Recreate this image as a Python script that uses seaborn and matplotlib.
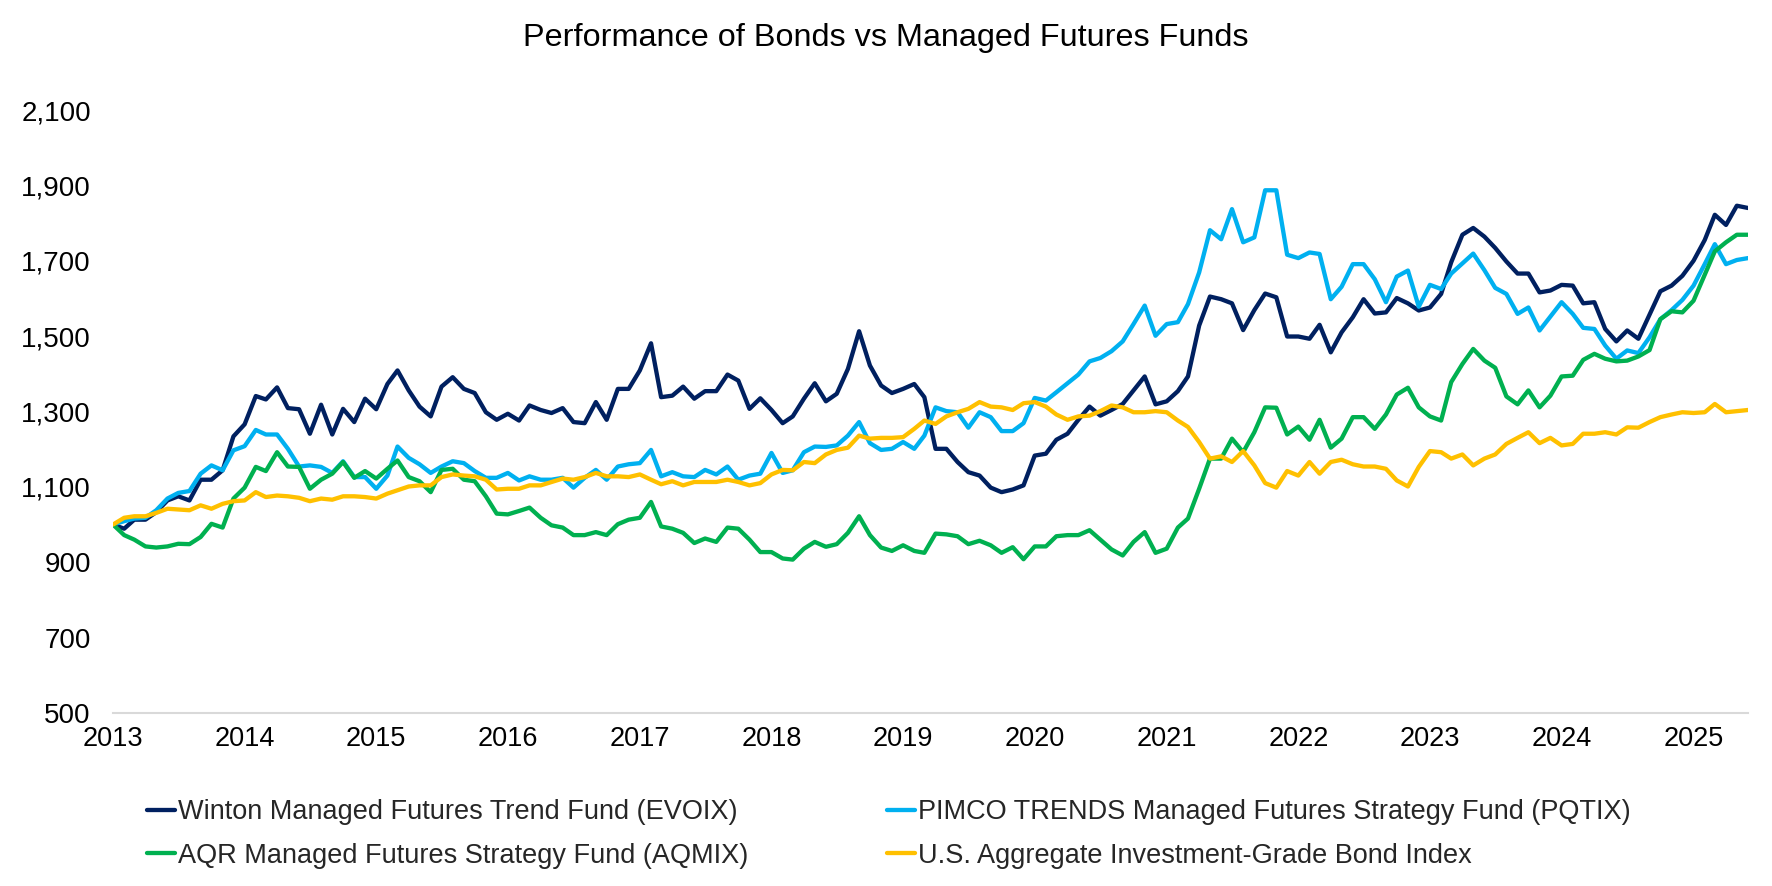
import numpy as np
import pandas as pd
import matplotlib
matplotlib.use("Agg")
import matplotlib.pyplot as plt
import matplotlib.dates as mdates
from matplotlib.ticker import FuncFormatter, FixedLocator
import seaborn as sns

# ---------------- data (monthly, growth of 1,000) ----------------
start_month = "2013-01-01"

winton = [1000, 989, 1013, 1013, 1033, 1064, 1075, 1064, 1119, 1119,
          1144, 1234, 1266, 1341, 1332, 1364, 1309, 1306, 1241, 1318,
          1239, 1307, 1272, 1334, 1306, 1373, 1409, 1356, 1313, 1287,
          1366, 1391, 1360, 1349, 1298, 1278, 1294, 1276, 1316, 1304,
          1296, 1309, 1272, 1269, 1325, 1278, 1360, 1360, 1409, 1481,
          1338, 1342, 1366, 1334, 1354, 1354, 1398, 1382, 1307, 1335,
          1304, 1269, 1287, 1334, 1375, 1327, 1347, 1413, 1513, 1422,
          1369, 1349, 1360, 1373, 1338, 1201, 1201, 1166, 1139, 1130,
          1098, 1086, 1093, 1104, 1183, 1188, 1225, 1241, 1278, 1313,
          1289, 1304, 1320, 1356, 1393, 1319, 1327, 1354, 1393, 1528,
          1605, 1598, 1587, 1516, 1569, 1613, 1603, 1499, 1499, 1493,
          1530, 1457, 1510, 1550, 1598, 1560, 1563, 1601, 1587, 1568,
          1576, 1612, 1696, 1769, 1787, 1764, 1734, 1698, 1666, 1666,
          1616, 1621, 1636, 1634, 1587, 1590, 1519, 1486, 1515, 1493,
          1557, 1619, 1634, 1660, 1700, 1755, 1822, 1795, 1846, 1840]

pimco = [1000, 1009, 1016, 1018, 1038, 1069, 1084, 1089, 1135, 1157,
         1144, 1197, 1208, 1251, 1239, 1239, 1201, 1154, 1157, 1153,
         1137, 1168, 1126, 1126, 1095, 1130, 1207, 1177, 1160, 1137,
         1154, 1168, 1163, 1142, 1124, 1124, 1137, 1117, 1128, 1119,
         1119, 1124, 1098, 1124, 1145, 1119, 1154, 1160, 1163, 1198,
         1128, 1139, 1128, 1126, 1145, 1133, 1154, 1119, 1130, 1135,
         1190, 1137, 1144, 1192, 1207, 1206, 1210, 1236, 1272, 1216,
         1198, 1201, 1219, 1201, 1236, 1311, 1301, 1298, 1257, 1298,
         1285, 1248, 1248, 1269, 1336, 1329, 1351, 1375, 1398, 1433,
         1442, 1460, 1486, 1532, 1581, 1501, 1532, 1537, 1585, 1669,
         1781, 1757, 1837, 1749, 1762, 1887, 1887, 1716, 1707, 1722,
         1718, 1598, 1631, 1691, 1691, 1651, 1590, 1658, 1674, 1578,
         1636, 1625, 1666, 1693, 1719, 1675, 1628, 1612, 1559, 1576,
         1515, 1552, 1590, 1559, 1522, 1519, 1475, 1440, 1462, 1455,
         1497, 1545, 1569, 1596, 1634, 1691, 1744, 1691, 1702, 1707]

aqr = [1000, 972, 960, 942, 939, 942, 949, 948, 967, 1002,
       992, 1069, 1098, 1153, 1142, 1192, 1154, 1153, 1095, 1119,
       1135, 1166, 1124, 1142, 1122, 1148, 1170, 1126, 1115, 1086,
       1145, 1148, 1119, 1115, 1075, 1029, 1027, 1036, 1045, 1018,
       998, 992, 972, 972, 980, 972, 1001, 1013, 1018, 1060,
       995, 989, 978, 951, 963, 954, 992, 989, 960, 927,
       927, 910, 907, 936, 954, 941, 948, 978, 1022, 972,
       939, 930, 945, 930, 925, 976, 974, 969, 948, 957,
       945, 925, 940, 908, 942, 942, 969, 972, 972, 985,
       960, 934, 918, 954, 980, 925, 936, 992, 1016, 1095,
       1175, 1175, 1228, 1192, 1245, 1311, 1310, 1239, 1260, 1225,
       1278, 1204, 1228, 1285, 1285, 1254, 1292, 1345, 1363, 1311,
       1287, 1276, 1378, 1426, 1466, 1435, 1416, 1340, 1319, 1356,
       1311, 1342, 1393, 1395, 1437, 1453, 1440, 1433, 1435, 1446,
       1463, 1545, 1566, 1563, 1594, 1663, 1725, 1749, 1769, 1769]

bond = [1000, 1018, 1022, 1022, 1031, 1042, 1040, 1038, 1051, 1042,
        1055, 1062, 1064, 1086, 1073, 1077, 1075, 1071, 1062, 1069,
        1066, 1075, 1075, 1073, 1069, 1082, 1091, 1101, 1104, 1104,
        1126, 1133, 1130, 1128, 1119, 1093, 1095, 1095, 1104, 1104,
        1113, 1122, 1119, 1126, 1137, 1128, 1128, 1126, 1133, 1119,
        1107, 1115, 1104, 1113, 1113, 1113, 1119, 1113, 1104, 1110,
        1133, 1145, 1144, 1166, 1163, 1186, 1198, 1204, 1236, 1228,
        1230, 1230, 1232, 1254, 1276, 1267, 1287, 1298, 1307, 1325,
        1313, 1311, 1304, 1322, 1325, 1313, 1292, 1278, 1287, 1289,
        1301, 1316, 1311, 1298, 1298, 1301, 1298, 1276, 1259, 1219,
        1175, 1181, 1166, 1195, 1157, 1110, 1098, 1142, 1130, 1166,
        1135, 1166, 1172, 1160, 1154, 1154, 1148, 1117, 1101, 1153,
        1195, 1192, 1175, 1186, 1157, 1175, 1186, 1214, 1230, 1245,
        1216, 1230, 1210, 1214, 1241, 1241, 1245, 1239, 1258, 1257,
        1272, 1285, 1292, 1298, 1296, 1298, 1320, 1298, 1301, 1304]

series_names = ["Winton Managed Futures Trend Fund (EVOIX)",
                "PIMCO TRENDS Managed Futures Strategy Fund (PQTIX)",
                "AQR Managed Futures Strategy Fund (AQMIX)",
                "U.S. Aggregate Investment-Grade Bond Index"]
colors = ["#002060", "#00B0F0", "#00B050", "#FFC000"]
y_ticks = [500, 700, 900, 1100, 1300, 1500, 1700, 1900, 2100]
x_tick_years = list(range(2013, 2026))
title = "Performance of Bonds vs Managed Futures Funds"

# ---------------- build table ----------------
dates = pd.date_range(start_month, periods=len(winton), freq="MS")
values = [winton, pimco, aqr, bond]
df = pd.DataFrame({
    "Date": np.concatenate([dates] * len(values)),
    "Value": np.concatenate([np.asarray(v, dtype=float) for v in values]),
    "Series": np.repeat(series_names, len(dates)),
})

# ---------------- plot ----------------
sns.set_theme(style="white")
plt.rcParams["font.family"] = ["Liberation Sans", "DejaVu Sans"]

W, H = 1772, 886
fig = plt.figure(figsize=(W / 100, H / 100), dpi=100)
ax = fig.add_axes([113 / W, 1 - 713 / H, (1748 - 113) / W, (713 - 110) / H])

sns.lineplot(data=df, x="Date", y="Value", hue="Series", hue_order=series_names,
             palette=colors, linewidth=3.1, estimator=None, ax=ax)

ax.set_ylim(500, 2100)
ax.set_xlim(dates[0], dates[-1])
ax.yaxis.set_major_locator(FixedLocator(y_ticks))
ax.yaxis.set_major_formatter(FuncFormatter(lambda v, p: f"{v:,.0f}"))
ax.xaxis.set_major_locator(FixedLocator([mdates.date2num(pd.Timestamp(f"{y}-01-01")) for y in x_tick_years]))
ax.xaxis.set_major_formatter(mdates.DateFormatter("%Y"))
ax.set_xlabel("")
ax.set_ylabel("")

for s in ["left", "top", "right"]:
    ax.spines[s].set_visible(False)
ax.spines["bottom"].set_color("#D9D9D9")
ax.spines["bottom"].set_linewidth(1.5)
ax.tick_params(axis="x", length=6, width=1.5, color="#D9D9D9", pad=3,
               labelsize=19.5, labelcolor="black")
ax.tick_params(axis="y", length=0, pad=16, labelsize=20, labelcolor="black")
ax.grid(False)

fig.suptitle(title, x=0.5, y=1 - 38 / H, va="center", fontsize=23.3, color="black")

handles, labels = ax.get_legend_handles_labels()
ax.get_legend().remove()
order = [0, 2, 1, 3]
fig.legend([handles[i] for i in order], [labels[i] for i in order],
           ncol=2, loc="upper left", bbox_to_anchor=(147 / W, 1 - 799 / H),
           frameon=False, fontsize=19.5, handlelength=1.05, handletextpad=0.1,
           columnspacing=5.1, labelspacing=0.66, borderpad=0, borderaxespad=0)

fig.savefig("out.png", dpi=100)
